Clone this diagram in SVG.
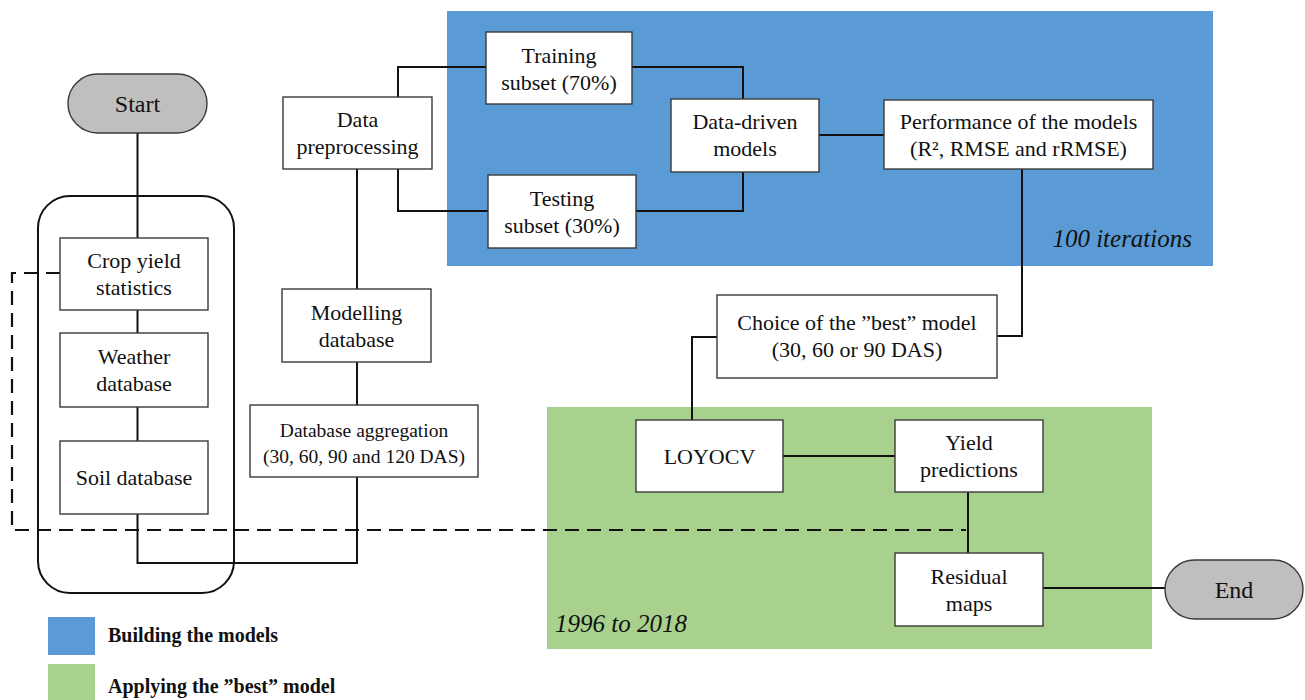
<svg xmlns="http://www.w3.org/2000/svg" width="1305" height="700" viewBox="0 0 1305 700">
<style>
.box{fill:#fff;stroke:#3a3a3a;stroke-width:1.4}
.pill{fill:#bfbfbf;stroke:#3a3a3a;stroke-width:1.4}
.t{font-family:"Liberation Serif","Times New Roman",serif;font-size:22px;fill:#111;text-anchor:middle}
.ts{font-size:19.5px}
.tp{font-size:24px}
.it{font-family:"Liberation Serif","Times New Roman",serif;font-size:25px;font-style:italic;fill:#111}
.lg{font-family:"Liberation Serif","Times New Roman",serif;font-size:20px;font-weight:bold;fill:#111}
.ln{fill:none;stroke:#111;stroke-width:2}
.dash{fill:none;stroke:#111;stroke-width:2.2;stroke-dasharray:14 8}
</style>
<rect width="1305" height="700" fill="#fff"/>
<g id="regions">
<rect x="447" y="11" width="766" height="255" fill="#5b9bd5"/>
<rect x="547" y="407" width="605" height="242" fill="#a9d18e"/>
<text class="it" x="1192" y="247" text-anchor="end">100 iterations</text>
<text class="it" x="555" y="632">1996 to 2018</text>
</g>
<g id="container">
<rect x="38" y="196" width="196" height="397" rx="32" ry="32" fill="none" stroke="#111" stroke-width="2"/>
</g>
<g id="connectors">
<path class="ln" d="M137.5,133 V238 M137.5,310 V333 M137.5,407 V441"/>
<path class="ln" d="M137.5,514 V563 H357 V477"/>
<path class="ln" d="M357,169 V289 M357,362 V405"/>
<path class="ln" d="M398,97 V67 H486 M632,67 H743 V99"/>
<path class="ln" d="M398,169 V211 H488 M636,211 H743 V172"/>
<path class="ln" d="M819,135 H884"/>
<path class="ln" d="M1022,169 V336 H997"/>
<path class="ln" d="M717,337 H692 V420"/>
<path class="ln" d="M783,456 H895"/>
<path class="ln" d="M968,492 V553"/>
<path class="ln" d="M1043,588 H1165"/>
<path class="dash" d="M60,273 H12 V530 H966"/>
</g>
<g id="start">
<rect class="pill" x="68" y="74" width="139" height="59" rx="29.5" ry="29.5"/>
<text class="t tp" x="137.5" y="112">Start</text>
</g>
<g id="crop-yield">
<rect class="box" x="60" y="238" width="148" height="72"/>
<text class="t" x="134" y="268">Crop yield<tspan x="134" dy="27">statistics</tspan></text>
</g>
<g id="weather">
<rect class="box" x="60" y="333" width="148" height="74"/>
<text class="t" x="134" y="364">Weather<tspan x="134" dy="27">database</tspan></text>
</g>
<g id="soil">
<rect class="box" x="60" y="441" width="148" height="73"/>
<text class="t" x="134" y="485">Soil database</text>
</g>
<g id="preprocessing">
<rect class="box" x="283" y="97" width="149" height="72"/>
<text class="t" x="357.5" y="127">Data<tspan x="357.5" dy="27">preprocessing</tspan></text>
</g>
<g id="modelling">
<rect class="box" x="282" y="289" width="149" height="73"/>
<text class="t" x="356.5" y="320">Modelling<tspan x="356.5" dy="27">database</tspan></text>
</g>
<g id="aggregation">
<rect class="box" x="250" y="405" width="228" height="72"/>
<text class="t ts" x="364" y="437">Database aggregation<tspan x="364" dy="26">(30, 60, 90 and 120 DAS)</tspan></text>
</g>
<g id="training">
<rect class="box" x="486" y="32" width="146" height="72"/>
<text class="t" x="559" y="63">Training<tspan x="559" dy="27">subset (70%)</tspan></text>
</g>
<g id="testing">
<rect class="box" x="488" y="175" width="148" height="73"/>
<text class="t" x="562" y="206">Testing<tspan x="562" dy="27">subset (30%)</tspan></text>
</g>
<g id="data-driven">
<rect class="box" x="671" y="99" width="148" height="73"/>
<text class="t" x="745" y="129">Data-driven<tspan x="745" dy="27">models</tspan></text>
</g>
<g id="performance">
<rect class="box" x="884" y="100" width="269" height="69"/>
<text class="t" x="1018.5" y="129">Performance of the models<tspan x="1018.5" dy="27">(R², RMSE and rRMSE)</tspan></text>
</g>
<g id="choice">
<rect class="box" x="717" y="295" width="280" height="83"/>
<text class="t" x="857" y="330">Choice of the ”best” model<tspan x="857" dy="27">(30, 60 or 90 DAS)</tspan></text>
</g>
<g id="loyocv">
<rect class="box" x="636" y="420" width="147" height="72"/>
<text class="t" x="709.5" y="464">LOYOCV</text>
</g>
<g id="yield-predictions">
<rect class="box" x="895" y="420" width="148" height="72"/>
<text class="t" x="969" y="450">Yield<tspan x="969" dy="27">predictions</tspan></text>
</g>
<g id="residual">
<rect class="box" x="895" y="553" width="148" height="73"/>
<text class="t" x="969" y="584">Residual<tspan x="969" dy="27">maps</tspan></text>
</g>
<g id="end">
<rect class="pill" x="1165" y="560" width="138" height="59" rx="29.5" ry="29.5"/>
<text class="t tp" x="1234" y="598">End</text>
</g>
<g id="legend">
<rect x="48" y="617" width="47" height="38" fill="#5b9bd5"/>
<rect x="48" y="664" width="47" height="40" fill="#a9d18e"/>
<text class="lg" x="108" y="642">Building the models</text>
<text class="lg" x="108" y="693">Applying the ”best” model</text>
</g>
</svg>
